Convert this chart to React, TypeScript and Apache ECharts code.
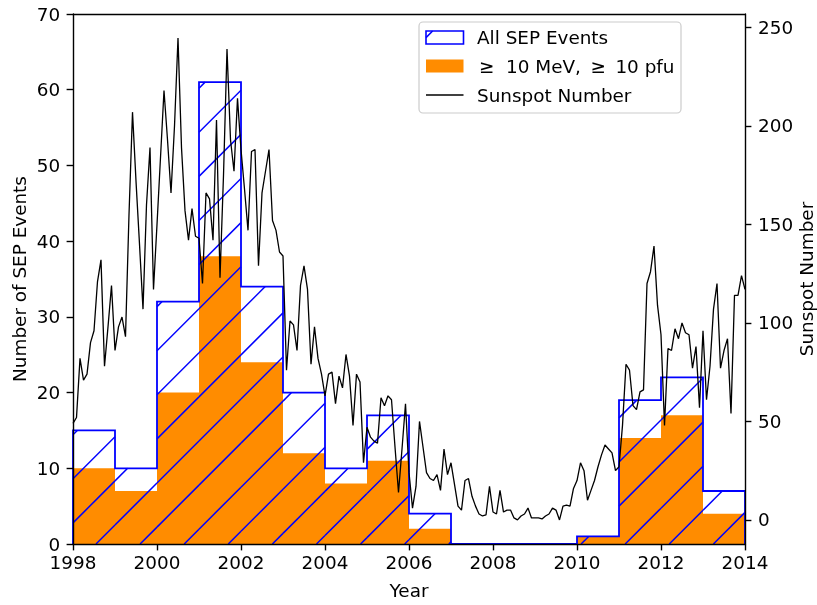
import React, { useEffect, useRef } from "react";
import * as echarts from "echarts";

// ---- data ----
const binStarts = [1998, 1999, 2000, 2001, 2002, 2003, 2004, 2005, 2006, 2007, 2008, 2009, 2010, 2011, 2012, 2013];
const allSepEvents = [15, 10, 32, 61, 34, 20, 10, 17, 4, 0, 0, 0, 1, 19, 22, 7];
const highEnergyEvents = [10, 7, 20, 38, 24, 12, 8, 11, 2, 0, 0, 0, 1, 14, 17, 4];

const sunspotStartYear = 1998; // monthly values, Jan 1998 .. Jan 2014
const sunspot1998 = [49, 52, 82, 71, 74, 90, 96, 121, 132, 78, 98, 119];
const sunspot1999 = [86, 98, 103, 93, 155, 207, 172, 140, 107, 160, 189, 117];
const sunspot2000 = [150, 184, 218, 193, 166, 200, 244.6, 189, 157, 142, 158, 144];
const sunspot2001 = [143, 120, 166, 163, 142, 203, 123, 175, 239, 193, 177, 214];
const sunspot2002 = [188, 168, 147, 187, 188, 129, 166, 177, 188, 152, 147, 136];
const sunspot2003 = [134, 76, 101, 99, 86, 119, 129, 117, 79, 98, 82, 74];
const sunspot2004 = [63, 74, 75, 59, 73, 67, 84, 73, 48, 74, 70, 29];
const sunspot2005 = [47, 42, 40, 39, 62, 58, 63, 61, 37, 14, 36, 59];
const sunspot2006 = [24, 6, 17, 50, 37, 24, 21, 20, 23, 15, 36, 23];
const sunspot2007 = [29, 18, 7, 5, 20, 21, 12, 7, 3, 2, 2.5, 17];
const sunspot2008 = [4, 3, 15, 4, 5, 5, 1, 0, 2, 3, 6, 1];
const sunspot2009 = [1, 1, 0.5, 2, 3, 6, 5, 0, 7, 7.5, 7, 16];
const sunspot2010 = [20, 29, 25, 10, 15, 20, 27, 33, 38, 36, 34, 25];
const sunspot2011 = [27, 48, 79, 76, 58, 56, 65, 66, 120, 126, 139, 109];
const sunspot2012 = [94, 48, 87, 86, 97, 92, 100, 95, 94, 77, 88, 57];
const sunspot2013 = [96, 61, 78, 107, 120, 77, 86, 92, 54, 114, 114, 124];
const sunspot2014 = [117];
const sunspot = [
  ...sunspot1998, ...sunspot1999, ...sunspot2000, ...sunspot2001, ...sunspot2002,
  ...sunspot2003, ...sunspot2004, ...sunspot2005, ...sunspot2006, ...sunspot2007,
  ...sunspot2008, ...sunspot2009, ...sunspot2010, ...sunspot2011, ...sunspot2012,
  ...sunspot2013, ...sunspot2014,
];

const xMin = 1998;
const xMax = 2014;
const xInterval = 2;
const leftMax = 70;
const leftInterval = 10;
const rightMin = -12.23;
const rightMax = 256.83;
const rightTicks = [0, 50, 100, 150, 200, 250];

const legendLabels = ["All SEP Events", "\u2265  10 MeV, \u2009\u2265 \u200910 pfu", "Sunspot Number"];

// ---- styles ----
const FONT = "DejaVu Sans";
const FS = 18.4;
const BLUE = "#0000ff";
const ORANGE = "#ff8c00";
const HATCH_SP = 44.1;
const HATCH_C0 = 640;

function hatchSegments(l: number, t: number, r: number, b: number) {
  const segs: number[][] = [];
  const kMin = Math.ceil((l + t - HATCH_C0) / HATCH_SP);
  const kMax = Math.floor((r + b - HATCH_C0) / HATCH_SP);
  for (let k = kMin; k <= kMax; k++) {
    const c = HATCH_C0 + k * HATCH_SP;
    const xa = Math.max(l, c - b);
    const xb = Math.min(r, c - t);
    if (xb - xa > 0.05) segs.push([xa, c - xa, xb, c - xb]);
  }
  return segs;
}

export default function App() {
  const ref = useRef<HTMLDivElement>(null);
  useEffect(() => {
    if (!ref.current) return;
    const chart = echarts.init(ref.current, null, { renderer: "svg" });

    const binData = binStarts.map((s, i) => [s, s + 1, allSepEvents[i]]);
    const highData = binStarts.map((s, i) => [s, s + 1, highEnergyEvents[i]]);
    const outline: number[][] = [[binStarts[0], 0]];
    binStarts.forEach((s, i) => {
      outline.push([s, allSepEvents[i]]);
      outline.push([s + 1, allSepEvents[i]]);
    });
    outline.push([binStarts[binStarts.length - 1] + 1, 0]);
    const sunData = sunspot.map((v, i) => [sunspotStartYear + i / 12, v]);

    const axisLineStyle = { color: "#000", width: 1.4 };
    const labelStyle = { color: "#000", fontSize: FS, fontFamily: FONT };

    // legend
    const lx = 426, lw = 37.5;
    const rowY = [37.5, 66, 95];
    const iconHatch = hatchSegments(lx, 31, lx + lw, 44);
    const legendGraphic: any[] = [
      {
        type: "rect",
        shape: { x: 419, y: 22, width: 262, height: 91, r: 4 },
        style: { fill: "rgba(255,255,255,0.8)", stroke: "#cccccc", lineWidth: 1.2 },
        z: 100,
      },
      {
        type: "rect",
        shape: { x: lx, y: 31, width: lw, height: 13 },
        style: { fill: "none", stroke: BLUE, lineWidth: 1.6 },
        z: 101,
      },
      ...iconHatch.map((s) => ({
        type: "line",
        shape: { x1: s[0], y1: s[1], x2: s[2], y2: s[3] },
        style: { stroke: BLUE, lineWidth: 1.5 },
        z: 101,
      })),
      {
        type: "rect",
        shape: { x: lx, y: 59.5, width: lw, height: 13 },
        style: { fill: ORANGE },
        z: 101,
      },
      {
        type: "line",
        shape: { x1: lx, y1: 95, x2: lx + lw, y2: 95 },
        style: { stroke: "#000", lineWidth: 1.3 },
        z: 101,
      },
      ...legendLabels.map((t, i) => ({
        type: "text",
        x: i === 1 ? 479 : 477,
        y: rowY[i],
        style: {
          text: t,
          fill: "#000",
          fontSize: FS,
          fontFamily: FONT,
          textVerticalAlign: "middle",
          verticalAlign: "middle",
          textAlign: "left",
        },
        z: 101,
      })),
    ];

    chart.setOption({
      animation: false,
      textStyle: { fontFamily: FONT },
      grid: { left: 73, top: 14, right: 72, bottom: 61, containLabel: false, outerBoundsMode: "none" },
      xAxis: [
        {
          type: "value",
          min: xMin,
          max: xMax,
          interval: xInterval,
          name: "Year",
          nameLocation: "middle",
          nameGap: 37.5,
          nameMoveOverlap: false,
          nameTextStyle: { ...labelStyle, lineHeight: FS },
          axisLine: { show: true, onZero: false, lineStyle: axisLineStyle },
          axisTick: { show: true, length: 6.4, lineStyle: axisLineStyle },
          axisLabel: { ...labelStyle, lineHeight: FS, margin: 9, formatter: (v: number) => String(v) },
          splitLine: { show: false },
          z: 10,
        },
        {
          type: "value",
          position: "top",
          min: xMin,
          max: xMax,
          axisLine: { show: true, onZero: false, lineStyle: axisLineStyle },
          axisTick: { show: false },
          axisLabel: { show: false },
          splitLine: { show: false },
          z: 10,
        },
      ],
      yAxis: [
        {
          type: "value",
          min: 0,
          max: leftMax,
          interval: leftInterval,
          name: "Number of SEP Events",
          nameLocation: "middle",
          nameRotate: 90,
          nameGap: 44.5,
          nameMoveOverlap: false,
          nameTextStyle: { ...labelStyle, lineHeight: FS },
          axisLine: { show: true, lineStyle: axisLineStyle },
          axisTick: { show: true, length: 6.4, lineStyle: axisLineStyle },
          axisLabel: { ...labelStyle, margin: 12.8 },
          splitLine: { show: false },
          z: 10,
        },
        {
          type: "value",
          position: "right",
          min: rightMin,
          max: rightMax,
          name: "Sunspot Number",
          nameLocation: "middle",
          nameRotate: 90,
          nameGap: 52,
          nameMoveOverlap: false,
          nameTextStyle: { ...labelStyle, lineHeight: FS },
          axisLine: { show: true, lineStyle: axisLineStyle },
          axisTick: { show: true, length: 6.4, lineStyle: axisLineStyle, customValues: rightTicks },
          axisLabel: { ...labelStyle, margin: 13, customValues: rightTicks },
          splitLine: { show: false },
          z: 10,
        },
      ],
      graphic: legendGraphic,
      series: [
        {
          type: "custom",
          name: legendLabels[1],
          xAxisIndex: 0,
          yAxisIndex: 0,
          data: highData,
          encode: { x: [0, 1], y: 2 },
          renderItem: (params: any, api: any) => {
            const v = api.value(2);
            const p0 = api.coord([api.value(0), 0]);
            const p1 = api.coord([api.value(1), v]);
            return {
              type: "rect",
              shape: { x: p0[0], y: p1[1], width: p1[0] - p0[0], height: p0[1] - p1[1] },
              style: { fill: ORANGE, stroke: "none" },
            };
          },
          z: 2,
        },
        {
          type: "custom",
          name: legendLabels[0],
          xAxisIndex: 0,
          yAxisIndex: 0,
          data: binData,
          encode: { x: [0, 1], y: 2 },
          renderItem: (params: any, api: any) => {
            const v = api.value(2);
            const p0 = api.coord([api.value(0), 0]);
            const p1 = api.coord([api.value(1), v]);
            const segs = v > 0 ? hatchSegments(p0[0], p1[1], p1[0], p0[1]) : [];
            return {
              type: "group",
              children: segs.map((s) => ({
                type: "line",
                shape: { x1: s[0], y1: s[1], x2: s[2], y2: s[3] },
                style: { stroke: BLUE, lineWidth: 1.5 },
              })),
            };
          },
          z: 3,
        },
        {
          type: "line",
          name: "All SEP outline",
          xAxisIndex: 0,
          yAxisIndex: 0,
          data: outline,
          showSymbol: false,
          symbol: "none",
          lineStyle: { color: BLUE, width: 1.8, join: "miter" },
          z: 4,
        },
        {
          type: "line",
          name: legendLabels[2],
          xAxisIndex: 0,
          yAxisIndex: 1,
          data: sunData,
          showSymbol: false,
          symbol: "none",
          clip: true,
          lineStyle: { color: "#000", width: 1.3 },
          z: 5,
        },
      ],
    });
    return () => chart.dispose();
  }, []);
  return <div ref={ref} style={{ position: "fixed", left: 0, top: 0, width: 817, height: 605 }} />;
}
